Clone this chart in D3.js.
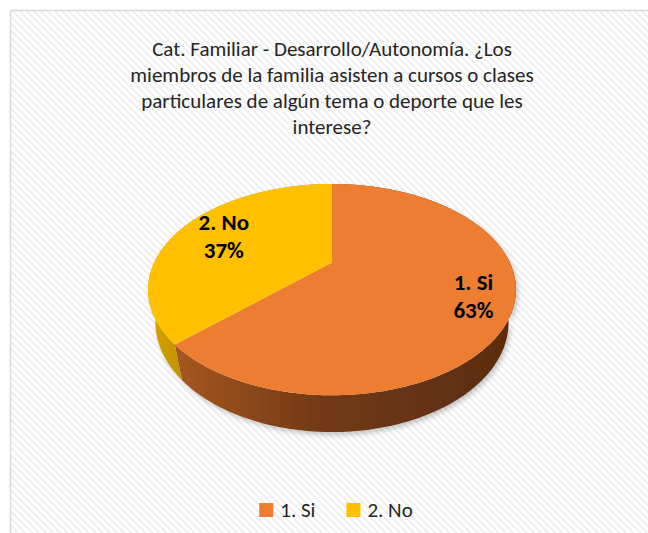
<!DOCTYPE html>
<html>
<head>
<meta charset="utf-8">
<script src="https://cdn.jsdelivr.net/npm/d3@7"></script>
<style>
  html, body { margin: 0; padding: 0; background: #fff; }
  svg { display: block; }
</style>
</head>
<body>
<div id="chart"></div>
<script>
// data
const categories = ["1. Si", "2. No"];
const values = [63, 37];
const colors = ["#ED7D31", "#FFC000"];
const titleLines = [
    "Cat. Familiar - Desarrollo/Autonomía. ¿Los",
    "miembros de la familia asisten a cursos o clases",
    "particulares de algún tema o deporte que les",
    "interese?"
];

const W = 648, H = 533;
const FONT = "Carlito, Lato, 'Open Sans', sans-serif";

const svg = d3.select("#chart").append("svg")
    .attr("width", W)
    .attr("height", H);

const defs = svg.append("defs");

// light diagonal texture of the chart area
const pat = defs.append("pattern")
    .attr("id", "diag")
    .attr("width", 5)
    .attr("height", 5)
    .attr("patternUnits", "userSpaceOnUse")
    .attr("patternTransform", "rotate(-45)");
pat.append("rect").attr("width", 5).attr("height", 5).attr("fill", "#ffffff");
pat.append("rect").attr("width", 2).attr("height", 5).attr("fill", "#efefef");

// side wall shading
const gOrange = defs.append("linearGradient")
    .attr("id", "wallOrange")
    .attr("gradientUnits", "userSpaceOnUse")
    .attr("x1", 150).attr("x2", 516).attr("y1", 0).attr("y2", 0);
gOrange.append("stop").attr("offset", 0).attr("stop-color", "#b15c22");
gOrange.append("stop").attr("offset", 0.45).attr("stop-color", "#733a17");
gOrange.append("stop").attr("offset", 1).attr("stop-color", "#5a2c10");

const gYellow = defs.append("linearGradient")
    .attr("id", "wallYellow")
    .attr("gradientUnits", "userSpaceOnUse")
    .attr("x1", 150).attr("x2", 180).attr("y1", 0).attr("y2", 0);
gYellow.append("stop").attr("offset", 0).attr("stop-color", "#d6a400");
gYellow.append("stop").attr("offset", 1).attr("stop-color", "#c49200");

const shadow = defs.append("filter").attr("id", "shadow")
    .attr("x", "-10%").attr("y", "-10%").attr("width", "120%").attr("height", "130%");
shadow.append("feDropShadow")
    .attr("dx", 2).attr("dy", 3).attr("stdDeviation", 2.5)
    .attr("flood-color", "#000").attr("flood-opacity", 0.22);

// chart area
svg.append("rect")
    .attr("x", 10.5).attr("y", 10.5)
    .attr("width", 660).attr("height", 540)
    .attr("fill", "url(#diag)")
    .attr("stroke", "#d9d9d9")
    .attr("stroke-width", 1.5);

// title
svg.append("text")
    .attr("text-anchor", "middle")
    .attr("font-family", FONT)
    .attr("font-size", 21)
    .attr("fill", "#262626")
    .selectAll("tspan")
    .data(titleLines)
    .enter()
    .append("tspan")
    .attr("x", 332)
    .attr("y", (d, i) => 56 + i * 26)
    .text(d => d);

// 3d pie: perspective view of a flat cylinder
const cx = 332, cy = 262.6, F = 578, k = 3.25;
const tilt = Math.asin(0.555);
const s = Math.sin(tilt), c = Math.cos(tilt);
const depth = 0.23;

function project(a, r, y) {
    const X = r * Math.sin(a), Wd = r * Math.cos(a);
    const z = k + Wd * c - y * s;
    const up = y * c + Wd * s;
    return [cx + F * X / z, cy - F * up / z];
}

const pie = d3.pie().sort(null).value(d => d.value);
const arcs = pie(categories.map((name, i) => ({name: name, value: values[i], color: colors[i]})));
const line = d3.line();

function samples(a0, a1) {
    const n = Math.max(2, Math.ceil((a1 - a0) / 0.02));
    return d3.range(n + 1).map(i => a0 + (a1 - a0) * i / n);
}

const pieG = svg.append("g");

// walls first, the top faces hide the back part
pieG.append("g")
    .attr("filter", "url(#shadow)")
    .selectAll("path")
    .data(arcs)
    .enter()
    .append("path")
    .attr("d", d => {
        const as = samples(d.startAngle, d.endAngle);
        const top = as.map(a => project(a, 1, 0));
        const bottom = as.slice().reverse().map(a => project(a, 1, -depth));
        return line(top.concat(bottom)) + "Z";
    })
    .attr("fill", (d, i) => i === 0 ? "url(#wallOrange)" : "url(#wallYellow)");

pieG.append("g")
    .selectAll("path")
    .data(arcs)
    .enter()
    .append("path")
    .attr("d", d => {
        const pts = [project(0, 0, 0)].concat(samples(d.startAngle, d.endAngle).map(a => project(a, 1, 0)));
        return line(pts) + "Z";
    })
    .attr("fill", d => d.data.color);

// data labels
const total = d3.sum(values);
const labels = pieG.append("g")
    .selectAll("text")
    .data(arcs)
    .enter()
    .append("text")
    .attr("text-anchor", "middle")
    .attr("font-family", FONT)
    .attr("font-weight", "bold")
    .attr("font-size", 23)
    .attr("fill", "#000");

labels.each(function (d) {
    const p = project((d.startAngle + d.endAngle) / 2, 0.76, 0);
    const x = p[0] + 7;
    const t = d3.select(this);
    t.append("tspan").attr("x", x).attr("y", p[1] - 5).text(d.data.name);
    t.append("tspan").attr("x", x).attr("y", p[1] + 23.5).text(d3.format(".0%")(d.data.value / total));
});

// legend
const legend = svg.append("g");
const item = legend.selectAll("g")
    .data(categories)
    .enter()
    .append("g");
item.append("rect")
    .attr("width", 14).attr("height", 14)
    .attr("y", -14)
    .attr("fill", (d, i) => colors[i]);
item.append("text")
    .attr("x", 21)
    .attr("font-family", FONT)
    .attr("font-size", 21)
    .attr("fill", "#262626")
    .text(d => d);

let xPos = 0;
item.each(function () {
    d3.select(this).attr("transform", "translate(" + xPos + ",0)");
    xPos += 21 + this.querySelector("text").getComputedTextLength() + 31;
});
const legendWidth = xPos - 31;
legend.attr("transform", "translate(" + (336 - legendWidth / 2) + ",517)");
</script>
</body>
</html>
